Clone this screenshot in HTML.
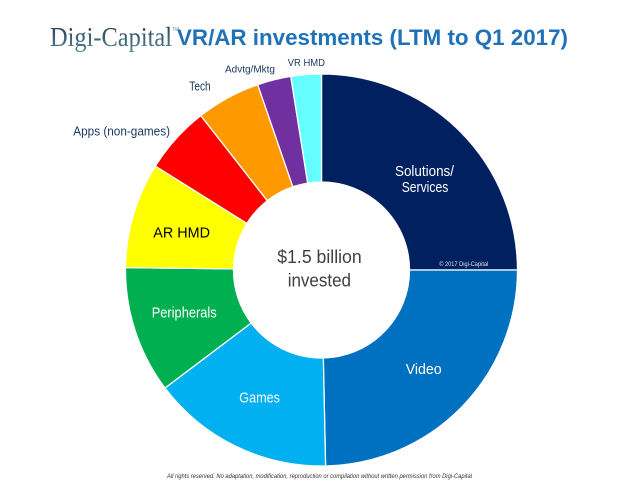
<!DOCTYPE html>
<html><head><meta charset="utf-8"><style>
html,body{margin:0;padding:0;background:#fff;}
svg{display:block;}
</style></head><body>
<svg width="618" height="486" viewBox="0 0 618 486" xmlns="http://www.w3.org/2000/svg">
<defs>
<linearGradient id="dg" x1="0" y1="0" x2="0" y2="1">
<stop offset="0" stop-color="#1a3548"/>
<stop offset="1" stop-color="#5a8799"/>
</linearGradient>
</defs>
<rect width="618" height="486" fill="#fff"/>
<!-- Title -->
<text x="50" y="46" font-family="Liberation Serif, serif" font-size="27" fill="url(#dg)" textLength="122" lengthAdjust="spacingAndGlyphs">Digi-Capital</text>
<text x="172" y="31" font-family="Liberation Sans, sans-serif" font-size="5" fill="#7a8a95">TM</text>
<text x="177" y="45" font-family="Liberation Sans, sans-serif" font-size="22" font-weight="bold" fill="#1f72b8" textLength="391" lengthAdjust="spacingAndGlyphs">VR/AR investments (LTM to Q1 2017)</text>

<!-- Donut -->
<g stroke="#fff" stroke-width="1.3">
<path d="M321.5,74 A196,196 0 0 1 517.5,270 L409.5,270 A88,88 0 0 0 321.5,182 Z" fill="#002060"/>
<path d="M517.5,270 A196,196 0 0 1 325.6,466 L323.3,358 A88,88 0 0 0 409.5,270 Z" fill="#0070c0"/>
<path d="M325.6,466 A196,196 0 0 1 165,388 L251.2,323 A88,88 0 0 0 323.3,358 Z" fill="#00b0f0"/>
<path d="M165,388 A196,196 0 0 1 125.5,267.6 L233.5,268.9 A88,88 0 0 0 251.2,323 Z" fill="#00b050"/>
<path d="M125.5,267.6 A196,196 0 0 1 155.3,166.1 L246.9,223.4 A88,88 0 0 0 233.5,268.9 Z" fill="#ffff00"/>
<path d="M155.3,166.1 A196,196 0 0 1 200.8,115.6 L267.3,200.7 A88,88 0 0 0 246.9,223.4 Z" fill="#ff0000"/>
<path d="M200.8,115.6 A196,196 0 0 1 257.7,84.7 L292.85,186.8 A88,88 0 0 0 267.3,200.7 Z" fill="#ff9900"/>
<path d="M257.7,84.7 A196,196 0 0 1 290.8,76.4 L307.7,183.1 A88,88 0 0 0 292.85,186.8 Z" fill="#7030a0"/>
<path d="M290.8,76.4 A196,196 0 0 1 321.5,74 L321.5,182 A88,88 0 0 0 307.7,183.1 Z" fill="#66ffff"/>
</g>

<!-- Inner labels -->
<g font-family="Liberation Sans, sans-serif" font-size="14.5" fill="#fff" lengthAdjust="spacingAndGlyphs">
<text x="395" y="176" textLength="59" lengthAdjust="spacingAndGlyphs">Solutions/</text>
<text x="401.7" y="192" textLength="46.6" lengthAdjust="spacingAndGlyphs">Services</text>
<text x="151.7" y="317.5" textLength="65" lengthAdjust="spacingAndGlyphs">Peripherals</text>
<text x="239.3" y="402.7" textLength="40.7" lengthAdjust="spacingAndGlyphs">Games</text>
<text x="405.7" y="374" textLength="36" lengthAdjust="spacingAndGlyphs">Video</text>
</g>
<text x="153.3" y="237.7" font-family="Liberation Sans, sans-serif" font-size="14.5" fill="#000" textLength="56.7" lengthAdjust="spacingAndGlyphs">AR HMD</text>
<text x="439.3" y="266" font-family="Liberation Sans, sans-serif" font-size="6" fill="#dde3ef" textLength="49" lengthAdjust="spacingAndGlyphs">© 2017 Digi-Capital</text>

<!-- Center -->
<text x="277.3" y="263" font-family="Liberation Sans, sans-serif" font-size="18" fill="#404040" textLength="84.4" lengthAdjust="spacingAndGlyphs">$1.5 billion</text>
<text x="287.7" y="286.7" font-family="Liberation Sans, sans-serif" font-size="18" fill="#404040" textLength="63.3" lengthAdjust="spacingAndGlyphs">invested</text>

<!-- Outer labels -->
<g font-family="Liberation Sans, sans-serif" fill="#1f3864">
<text x="73.3" y="135.3" font-size="12.5" textLength="96.7" lengthAdjust="spacingAndGlyphs">Apps (non-games)</text>
<text x="189.3" y="90.7" font-size="12.5" textLength="21.4" lengthAdjust="spacingAndGlyphs">Tech</text>
<text x="225" y="72.7" font-size="10" textLength="50" lengthAdjust="spacingAndGlyphs">Advtg/Mktg</text>
<text x="287.7" y="66" font-size="10" textLength="37.3" lengthAdjust="spacingAndGlyphs">VR HMD</text>
</g>

<!-- Footer -->
<text x="167" y="478" font-family="Liberation Sans, sans-serif" font-size="6.5" font-style="italic" fill="#333" textLength="305" lengthAdjust="spacingAndGlyphs">All rights reserved. No adaptation, modification, reproduction or compilation without written permission from Digi-Capital</text>
</svg>
</body></html>
